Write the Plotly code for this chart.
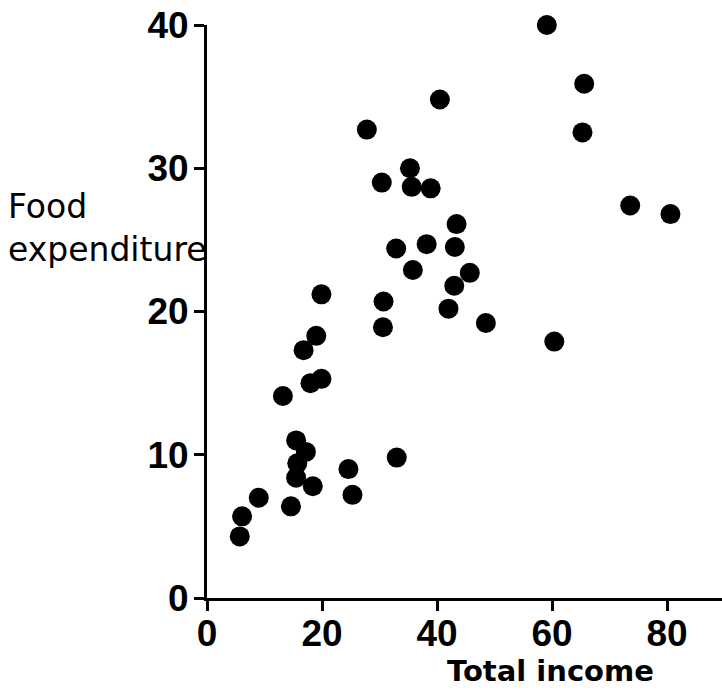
import plotly.graph_objects as go

# Total income (x) and food expenditure (y)
income = [5.7, 6.1, 9.0, 14.6, 15.5, 17.2, 15.7, 15.5, 18.4, 24.6, 25.3, 33.0,
          13.2, 18.0, 19.9, 16.8, 19.0, 19.9, 30.7, 30.6, 27.8, 40.5, 35.3, 30.4,
          35.6, 38.9, 43.4, 38.2, 43.1, 32.9, 35.8, 45.7, 43.0, 42.0, 48.5, 60.4,
          59.1, 65.6, 65.3, 73.6, 80.6]
food = [4.3, 5.7, 7.0, 6.4, 11.0, 10.2, 9.4, 8.4, 7.8, 9.0, 7.2, 9.8,
        14.1, 15.0, 15.3, 17.3, 18.3, 21.2, 20.7, 18.9, 32.7, 34.8, 30.0, 29.0,
        28.7, 28.6, 26.1, 24.7, 24.5, 24.4, 22.9, 22.7, 21.8, 20.2, 19.2, 17.9,
        40.0, 35.9, 32.5, 27.4, 26.8]

x_ticks = [0, 20, 40, 60, 80]
y_ticks = [0, 10, 20, 30, 40]
x_title = "Total income"
y_title = "Food<br>expenditure"

W, H = 722, 695
L, T = 207, 25
PW = W - L
PH = 573
B = H - T - PH
PX_PER_UNIT = 5.75

tickfont = dict(family="Liberation Sans", size=37, color="black", weight="bold")
fig = go.Figure()
fig.add_trace(go.Scatter(
    x=income, y=food, mode="markers",
    marker=dict(size=20, color="black", line=dict(width=0)),
    cliponaxis=False, showlegend=False, hoverinfo="x+y",
))

fig.update_layout(
    width=W, height=H,
    margin=dict(l=L, r=0, t=T, b=B, pad=0, autoexpand=False),
    paper_bgcolor="white", plot_bgcolor="white",
    xaxis=dict(range=[0, PW / PX_PER_UNIT], tickvals=x_ticks, ticktext=[str(v) for v in x_ticks],
               showgrid=False, zeroline=False, showline=True, linecolor="black",
               linewidth=3, ticks="outside", ticklen=10, tickwidth=3, tickcolor="black",
               ticklabelstandoff=-9, ticklabeloverflow="allow",
               automargin=False, tickfont=tickfont),
    yaxis=dict(range=[0, 40], tickvals=y_ticks, ticktext=[str(v) for v in y_ticks],
               showgrid=False, zeroline=False, showline=True, linecolor="black",
               linewidth=3, ticks="outside", ticklen=10, tickwidth=3, tickcolor="black",
               ticklabelstandoff=-2, ticklabeloverflow="allow",
               automargin=False, tickfont=tickfont),
    annotations=[
        dict(text=x_title, xref="paper", yref="paper", x=(550 - L) / PW, y=(598 - 671) / PH,
             xanchor="center", yanchor="middle", showarrow=False,
             font=dict(family="DejaVu Sans", size=29, color="black", weight="bold")),
        dict(text=y_title, xref="paper", yref="paper", x=(7 - L) / PW, y=(598 - 228) / PH,
             xanchor="left", yanchor="middle", align="left", showarrow=False, borderpad=0,
             font=dict(family="DejaVu Sans", size=33, color="black")),
    ],
)

fig.write_html("out.html", config={"displayModeBar": False},
               post_script="document.body.style.margin='0px';")
